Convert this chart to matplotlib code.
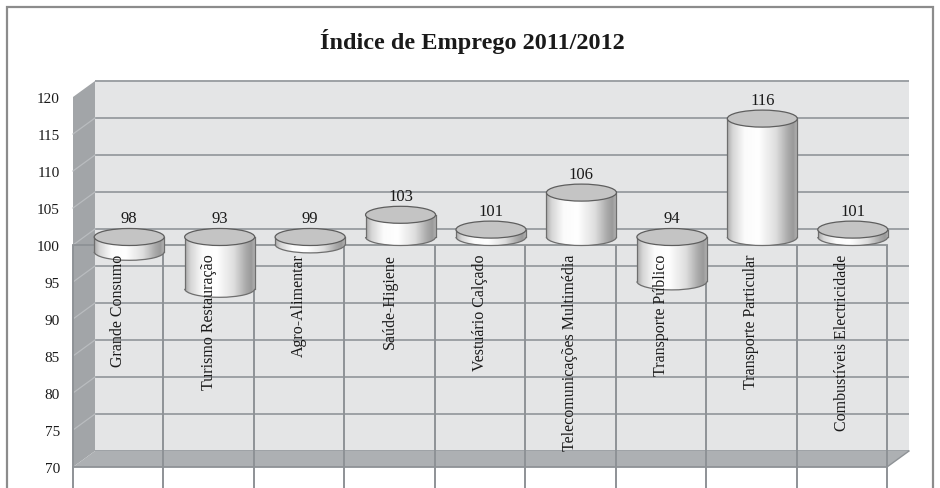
import numpy as np
import matplotlib
matplotlib.use("Agg")
import matplotlib.pyplot as plt
from matplotlib.patches import Rectangle, Polygon, Ellipse, Arc
from matplotlib.colors import LinearSegmentedColormap

# ---------------- data ----------------
categories = ["Grande Consumo", "Turismo Restauração", "Agro-Alimentar",
              "Saúde-Higiene", "Vestuário Calçado", "Telecomunicações Multimédia",
              "Transporte Público", "Transporte Particular", "Combustíveis Electricidade"]
values = [98, 93, 99, 103, 101, 106, 94, 116, 101]
yticks = list(range(70, 121, 5))
base_value = 100
title = "Índice de Emprego 2011/2012"

# ---------------- style ----------------
W, H, DPI = 940, 489, 100
SERIF = ["Liberation Serif", "DejaVu Serif"]
wall_c = "#e4e5e6"
side_c = "#a2a5a8"
floor_c = "#adb0b3"
grid_c = "#9da1a5"
line_c = "#8e9296"
text_c = "#1a1a1a"

fig = plt.figure(figsize=(W / DPI, H / DPI), dpi=DPI)
fig.patch.set_facecolor("white")

# front plane of the 3D box (pixel geometry -> figure fractions)
left_px, right_px, top_px, bot_px = 73, 887, 98, 468
ax = fig.add_axes([left_px / W, 1 - bot_px / H, (right_px - left_px) / W, (bot_px - top_px) / H])
n = len(categories)
ax.set_xlim(-0.5, n - 0.5)
ax.set_ylim(yticks[0], yticks[-1])
ax.patch.set_visible(False)
for s in ax.spines.values():
    s.set_visible(False)

px_x = (right_px - left_px) / n                      # pixels per category
px_y = (bot_px - top_px) / (yticks[-1] - yticks[0])  # pixels per value unit
DX = 22 / px_x   # depth offset (to the back wall) in data units
DY = 16 / px_y

x0, x1 = -0.5, n - 0.5
y0, y1 = yticks[0], yticks[-1]

# back wall
ax.add_patch(Rectangle((x0 + DX, y0 + DY), x1 - x0, y1 - y0, fc=wall_c, ec="none",
                       zorder=0.5, clip_on=False))
for v in yticks:
    ax.plot([x0 + DX, x1 + DX], [v + DY, v + DY], color=grid_c, lw=1.4, zorder=0.6,
            clip_on=False, solid_capstyle="butt")
# left side wall
ax.add_patch(Polygon([(x0, y0), (x0, y1), (x0 + DX, y1 + DY), (x0 + DX, y0 + DY)],
                     closed=True, fc=side_c, ec="none", zorder=0.7, clip_on=False))
for v in yticks[1:-1]:
    ax.plot([x0, x0 + DX], [v, v + DY], color="#b9bcbf", lw=0.9, zorder=0.75, clip_on=False)
# floor
ax.add_patch(Polygon([(x0, y0), (x1, y0), (x1 + DX, y0 + DY), (x0 + DX, y0 + DY)],
                     closed=True, fc=floor_c, ec="none", zorder=0.8, clip_on=False))
ax.plot([x0, x1], [y0, y0], color=line_c, lw=1.3, zorder=0.85, clip_on=False)
ax.plot([x1, x1 + DX], [y0, y0 + DY], color=line_c, lw=1.0, zorder=0.85, clip_on=False)

# category axis at 100 and category boundary lines
ax.plot([x0, x1], [base_value, base_value], color=line_c, lw=1.3, zorder=0.9, clip_on=False)
below = y0 - 25 / px_y
for b in np.arange(x0, x1 + 0.01, 1.0):
    ax.plot([b, b], [base_value, below], color=line_c, lw=1.4, zorder=0.9, clip_on=False,
            solid_capstyle="butt")

# cylinders
grad_cmap = LinearSegmentedColormap.from_list("cyl", [
    (0.0, "#a9a9a9"), (0.08, "#d6d6d6"), (0.25, "#fbfbfb"), (0.45, "#ffffff"),
    (0.70, "#dedede"), (0.88, "#a8a8a8"), (0.95, "#9a9a9a"), (1.0, "#b0b0b0")])
grad = np.linspace(0, 1, 256).reshape(1, -1)
cw = 70 / px_x          # cylinder width in data units
eh = 17 / px_y          # ellipse height in data units
for i, v in enumerate(values):
    cx = i + DX / 2
    lo = min(v, base_value) + DY / 2
    hi = max(v, base_value) + DY / 2
    z = 2 + i * 0.1
    body = Rectangle((cx - cw / 2, lo), cw, hi - lo, transform=ax.transData)
    bottom = Ellipse((cx, lo), cw, eh, transform=ax.transData)
    for clip in (body, bottom):
        im = ax.imshow(grad, cmap=grad_cmap, extent=(cx - cw / 2, cx + cw / 2, lo - eh, hi),
                       aspect="auto", zorder=z, interpolation="bilinear", clip_on=True)
        im.set_clip_path(clip)
    ax.plot([cx - cw / 2, cx - cw / 2], [lo, hi], color="#6e6e6e", lw=0.9, zorder=z + 0.01, clip_on=False)
    ax.plot([cx + cw / 2, cx + cw / 2], [lo, hi], color="#6e6e6e", lw=0.9, zorder=z + 0.01, clip_on=False)
    ax.add_patch(Arc((cx, lo), cw, eh, theta1=180, theta2=360, color="#6e6e6e", lw=0.9,
                     zorder=z + 0.01, clip_on=False))
    ax.add_patch(Ellipse((cx, hi), cw, eh, fc="#c4c4c4", ec="#5e5e5e", lw=0.9,
                         zorder=z + 0.02, clip_on=False))
    ax.text(cx, hi + 19 / px_y, f"{v}", ha="center", va="center", fontsize=12,
            family=SERIF, color=text_c, zorder=6)
    ax.text(i, base_value - 8.5 / px_y, categories[i], rotation=90, ha="center", va="top",
            fontsize=11.5, family=SERIF, color=text_c, zorder=6)

ax.set_xlim(x0, x1)
ax.set_ylim(y0, y1)
ax.set_xticks([])
ax.set_yticks(yticks)
ax.set_yticklabels([str(t) for t in yticks], family=SERIF, fontsize=11, color=text_c)
ax.tick_params(axis="y", length=0, pad=9.5)

# outer frame
fig.add_artist(Rectangle((7 / W, -0.1), (933 - 7) / W, 1.1 - 8 / H, transform=fig.transFigure,
                         fill=False, ec="#8c8c8c", lw=1.6))

fig.text(472 / W, 1 - 42 / H, title, ha="center", va="center", fontsize=17.5,
         fontweight="bold", family=SERIF, color=text_c)

fig.savefig("out.png", dpi=DPI, facecolor="white")
